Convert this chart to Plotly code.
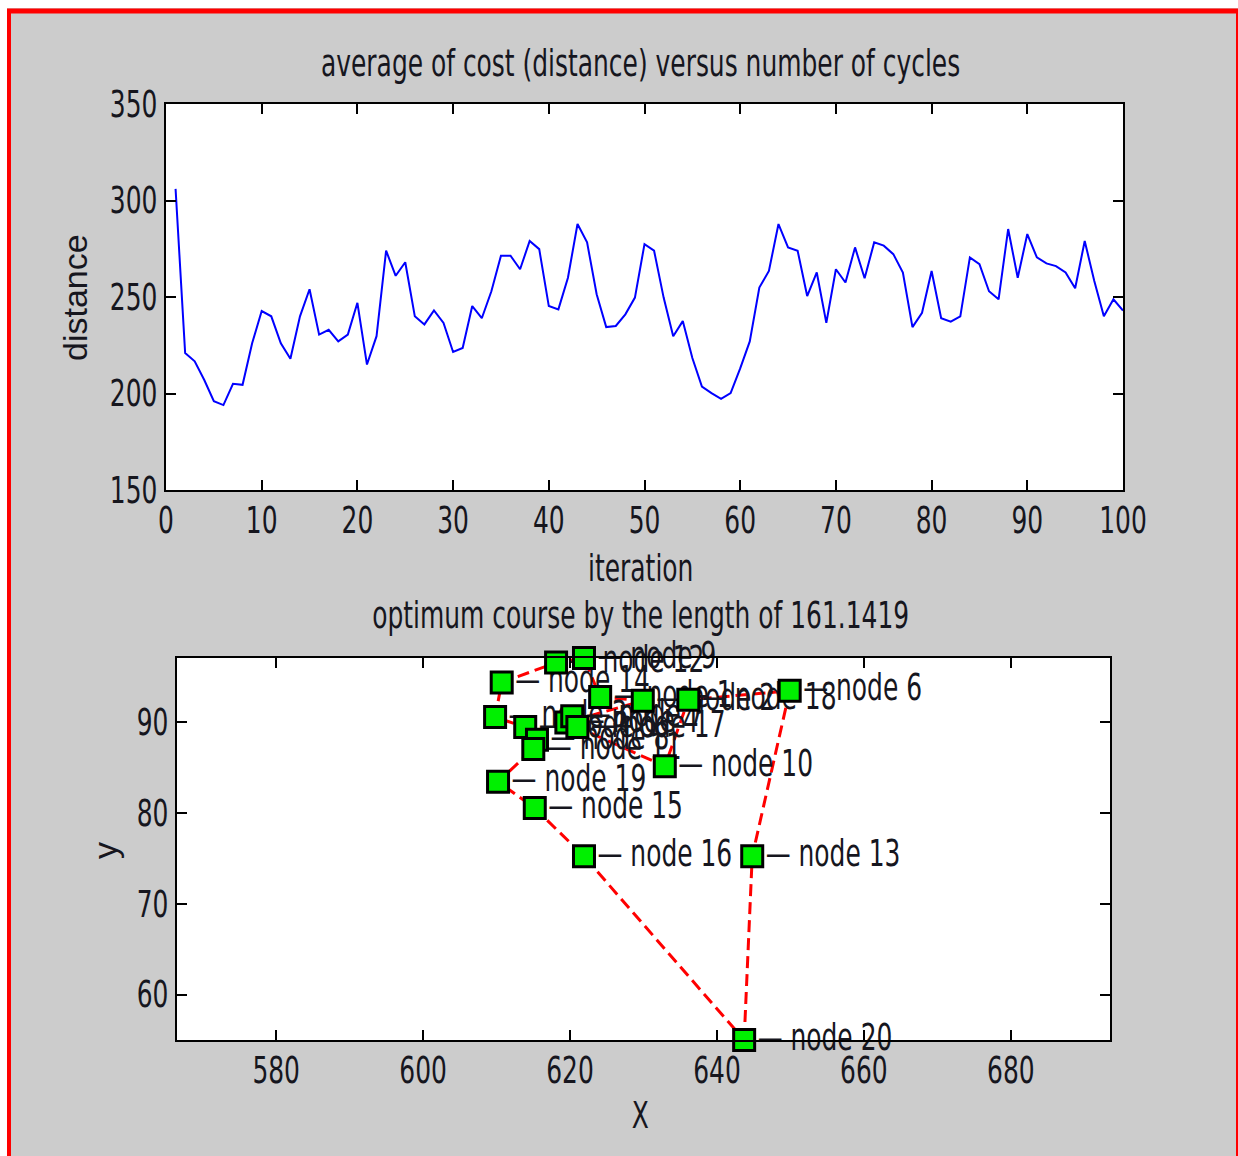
import plotly.graph_objects as go

W, H = 1238, 1156

# ---------------- data ----------------
iterations = list(range(1, 101))
avg_distance = [306, 221, 216.7, 207, 196, 194, 205, 204.5, 226, 242.7,
                240, 226, 218, 240, 254, 230.5, 233, 227, 230.5, 247,
                215, 229.7, 274, 261, 268, 240, 235.8, 243, 236.6, 221.5,
                223.6, 245.3, 239, 253, 271.4, 271.4, 264.4, 279, 274.8, 245.3,
                243.6, 260, 287.8, 278.3, 251.4, 234.4, 235, 241, 249.7, 277.4,
                274, 249.7, 229.7, 237.5, 218.4, 203.6, 200.2, 197.2, 200.2, 213,
                227, 254.9, 263.5, 287.8, 275.7, 274, 250.5, 262.7, 236.6, 264.4,
                257.5, 275.7, 259.7, 278.3, 276.6, 272.2, 262.7, 234.4, 241.8, 263.5,
                239, 237.2, 240, 270.5, 267, 253, 248.8, 285.2, 260, 282.6,
                270.5, 267.4, 266, 262.7, 254.5, 279, 258.3, 240, 248.8, 243]

node_ids = list(range(1, 21))
node_x = [624.1, 629.9, 609.8, 619.5, 613.9, 649.9, 620.3, 615.5, 621.9, 632.9,
          615.0, 618.1, 644.8, 610.7, 615.2, 621.9, 621.0, 636.1, 610.2, 643.7]
node_y = [92.7, 92.3, 90.5, 89.9, 89.4, 93.4, 90.6, 88.0, 97.0, 85.1,
          87.0, 96.5, 75.2, 94.3, 80.5, 75.2, 89.4, 92.4, 83.4, 55.0]
route = [20, 13, 6, 18, 10, 17, 7, 4, 2, 1, 9, 12, 14, 3, 5, 8, 11, 19, 15, 16, 20]

top_title = "average of cost (distance) versus number of cycles"
bottom_title = "optimum course by the length of 161.1419"

# ---------------- helpers ----------------
def px(x):
    return x / W

def py(y):
    return 1 - y / H

NARROW = "DejaVu Sans Condensed"
REG = "Liberation Sans, Arial, sans-serif"
TXT = "#16161e"
FS = 33

fig = go.Figure()

fig.add_trace(go.Scatter(x=iterations, y=avg_distance, mode="lines",
                         line=dict(color="#0000ff", width=2),
                         xaxis="x", yaxis="y", showlegend=False, hoverinfo="skip"))

rx = [node_x[node_ids.index(n)] for n in route]
ry = [node_y[node_ids.index(n)] for n in route]
fig.add_trace(go.Scatter(x=rx, y=ry, mode="lines",
                         line=dict(color="#ff0000", width=3, dash="12px,6px"),
                         xaxis="x2", yaxis="y2", showlegend=False, hoverinfo="skip",
                         cliponaxis=False))

fig.add_trace(go.Scatter(x=node_x, y=node_y, mode="markers+text",
                         marker=dict(size=20, opacity=0),
                         text=["— node %d" % n for n in node_ids],
                         textposition="middle right",
                         textfont=dict(family=NARROW, size=FS, color=TXT),
                         xaxis="x2", yaxis="y2", showlegend=False, hoverinfo="skip",
                         cliponaxis=False))

fig.add_trace(go.Scatter(x=node_x, y=node_y, mode="markers",
                         marker=dict(symbol="square", size=21, color="#00f000",
                                     line=dict(color="black", width=3)),
                         xaxis="x2", yaxis="y2", showlegend=False, hoverinfo="skip",
                         cliponaxis=False))

axis_common = dict(showline=True, linecolor="black", linewidth=2, mirror="ticks",
                   ticks="inside", ticklen=10, tickwidth=2, tickcolor="black",
                   showgrid=False, zeroline=False, automargin=False,
                   tickfont=dict(family=NARROW, size=FS, color=TXT))

fig.update_layout(
    template="none",
    width=W, height=H,
    margin=dict(l=0, r=0, t=0, b=0, pad=0, autoexpand=False),
    paper_bgcolor="#cccccc",
    plot_bgcolor="white",
    xaxis=dict(domain=[px(166), px(1123)], range=[0, 100], dtick=10, anchor="y", **axis_common),
    yaxis=dict(domain=[py(490), py(104)], range=[150, 350], dtick=50, anchor="x", **axis_common),
    xaxis2=dict(domain=[px(177), px(1110)], range=[566.5, 693.5], tickvals=[580, 600, 620, 640, 660, 680],
                anchor="y2", **axis_common),
    yaxis2=dict(domain=[py(1040), py(658)], range=[55, 97], tickvals=[60, 70, 80, 90],
                anchor="x2", **axis_common),
)

ann = []
def add_text(t, x, y, font=NARROW, size=FS, angle=0):
    ann.append(dict(text=t, x=px(x), y=py(y), xref="paper", yref="paper",
                    xanchor="center", yanchor="middle", showarrow=False, textangle=angle,
                    font=dict(family=font, size=size, color=TXT)))

add_text(top_title, 640, 64)
add_text("iteration", 640, 568)
add_text("distance", 75, 298, font=REG, size=34, angle=-90)
add_text(bottom_title, 640, 616)
add_text("X", 640, 1115)
add_text("y", 105, 850, font=REG, size=34, angle=-90)
fig.update_layout(annotations=ann)

shapes = [
    dict(type="rect", xref="paper", yref="paper", x0=0, x1=1, y0=py(8), y1=1.01,
         fillcolor="white", line=dict(width=0), layer="above"),
    dict(type="rect", xref="paper", yref="paper", x0=-0.01, x1=px(7), y0=-0.01, y1=1.01,
         fillcolor="white", line=dict(width=0), layer="above"),
    dict(type="line", xref="paper", yref="paper", x0=px(7), x1=1.0, y0=py(11), y1=py(11),
         line=dict(color="#ff0000", width=5), layer="above"),
    dict(type="line", xref="paper", yref="paper", x0=px(9), x1=px(9), y0=py(9), y1=-0.01,
         line=dict(color="#ff0000", width=4), layer="above"),
    dict(type="line", xref="paper", yref="paper", x0=px(1237), x1=px(1237), y0=py(9), y1=-0.01,
         line=dict(color="#ff0000", width=2), layer="above"),
]
fig.update_layout(shapes=shapes)

post = """
document.documentElement.style.margin='0';
document.documentElement.style.overflow='hidden';
document.body.style.margin='0';
document.body.style.overflow='hidden';
var gd = document.getElementById('{plot_id}');
var SX = 0.84, SY = 1.12;
gd.querySelectorAll('text').forEach(function(t){
  var ff = (t.style.fontFamily || '') + (t.getAttribute('font-family') || '');
  if (ff.indexOf('Condensed') < 0) return;
  var bb = t.getBBox();
  var ax = parseFloat(t.getAttribute('x'));
  if (isNaN(ax)) ax = bb.x + bb.width / 2;
  var cy = bb.y + bb.height / 2;
  var tr = t.getAttribute('transform') || '';
  t.setAttribute('transform', tr + ' translate(' + ax + ',' + cy + ') scale(' + SX + ',' + SY + ') translate(' + (-ax) + ',' + (-cy) + ')');
});
"""

fig.write_html("out.html", post_script=post, config={"displayModeBar": False})
